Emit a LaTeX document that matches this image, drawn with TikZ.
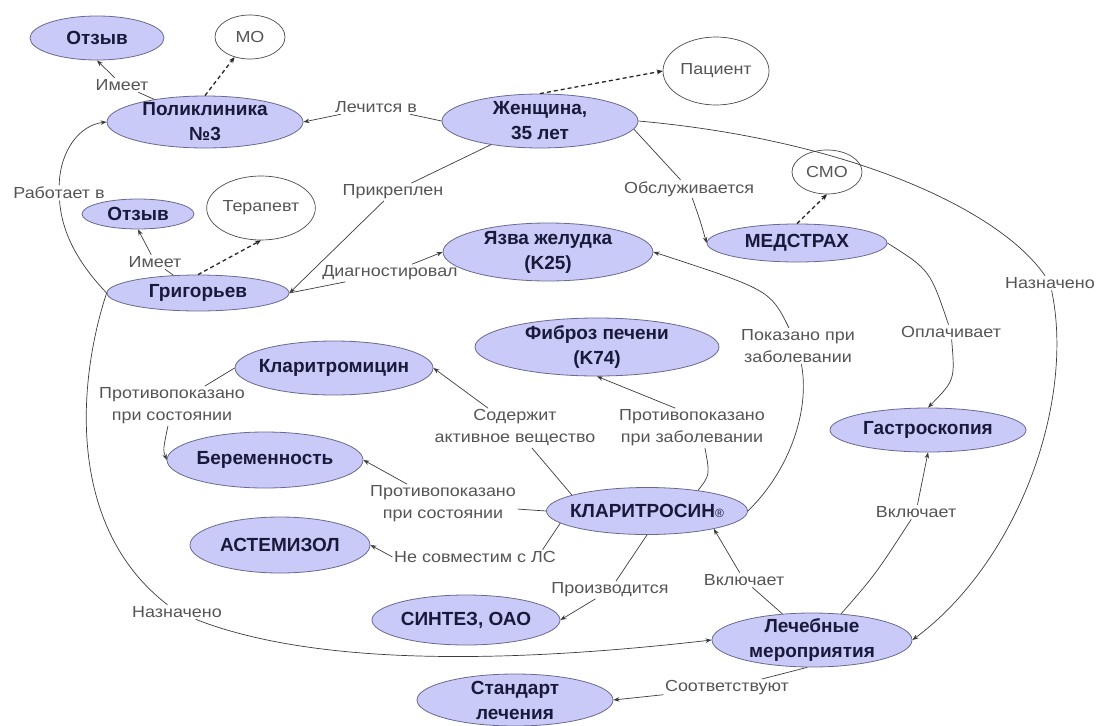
\documentclass[tikz,border=0pt]{standalone}
\usepackage{fontspec}
\setmainfont{Liberation Sans}
\newfontfamily\lblfont[FakeStretch=1.12]{Liberation Sans}
\newfontfamily\cnodefont{Liberation Sans}
\usetikzlibrary{shapes.geometric,arrows.meta}
\definecolor{cfill}{RGB}{202,202,248}
\definecolor{cborder}{RGB}{105,105,145}
\definecolor{ctext}{RGB}{25,25,60}
\definecolor{clbl}{RGB}{85,85,85}
\definecolor{cline}{RGB}{60,60,60}
\tikzset{
  concept/.style={ellipse, draw=cborder, line width=0.8pt, fill=cfill, text=ctext,
    font={\cnodefont\bfseries\fontsize{19}{25}\selectfont}, align=center,
    inner xsep=-10pt, inner ysep=-6pt},
  role/.style={ellipse, draw=black!70, line width=0.7pt, fill=white, text=clbl,
    font={\lblfont\fontsize{16}{20}\selectfont}, inner sep=0pt},
  lbl/.style={text=clbl, font={\lblfont\fontsize{16}{22}\selectfont}, align=center, inner sep=1.5pt},
  plain/.style={draw=cline, line width=0.7pt},
  edge/.style={plain, -{Stealth[length=6pt,width=4.5pt]}},
  dashedge/.style={draw=black!85, line width=1.3pt, dash pattern=on 4pt off 3pt,
    -{Stealth[length=6pt,width=5pt]}}
}
\begin{document}
\begin{tikzpicture}[x=1pt,y=-1pt]
\useasboundingbox[fill=white] (0,0) rectangle (1099,725);

% concept nodes
\node[concept, minimum width=134pt, minimum height=44pt] (otz1) at (97,38) {Отзыв};
\node[role, minimum width=70pt, minimum height=44pt] (mo) at (250,37) {МО};
\node[concept, minimum width=196pt, minimum height=52pt] (pol) at (205,122) {Поликлиника\\№3};
\node[concept, minimum width=196pt, minimum height=54pt] (zhen) at (540,121) {Женщина,\\35 лет};
\node[role, minimum width=106pt, minimum height=68pt] (pac) at (716,71) {Пациент};
\node[role, minimum width=70pt, minimum height=44pt] (smo) at (827,172) {СМО};
\node[concept, minimum width=180pt, minimum height=38pt] (med) at (797,243) {МЕДСТРАХ};
\node[concept, minimum width=112pt, minimum height=30pt] (otz2) at (138,214) {Отзыв};
\node[role, minimum width=108pt, minimum height=64pt] (ter) at (261,208) {Терапевт};
\node[concept, minimum width=182pt, minimum height=36pt] (grig) at (198,293) {Григорьев};
\node[concept, minimum width=210pt, minimum height=58pt] (yazva) at (548,252) {Язва желудка\\(K25)};
\node[concept, minimum width=244pt, minimum height=58pt] (fibroz) at (597,347) {Фиброз печени\\(K74)};
\node[concept, minimum width=198pt, minimum height=54pt] (klmic) at (334,368) {Кларитромицин};
\node[concept, minimum width=196pt, minimum height=56pt] (ber) at (265,460) {Беременность};
\node[concept, minimum width=196pt, minimum height=44pt] (gastro) at (928,430) {Гастроскопия};
\node[concept, minimum width=201pt, minimum height=47pt] (klsin) at (647,511) {КЛАРИТРОСИН{\mdseries\fontsize{12}{12}\selectfont ®}};
\node[concept, minimum width=180pt, minimum height=56pt] (astem) at (280,545) {АСТЕМИЗОЛ};
\node[concept, minimum width=188pt, minimum height=50pt] (sintez) at (466,620) {СИНТЕЗ, ОАО};
\node[concept, minimum width=200pt, minimum height=54pt] (leche) at (812,640) {Лечебные\\мероприятия};
\node[concept, minimum width=196pt, minimum height=52pt] (standart) at (515,700) {Стандарт\\лечения};

% edge labels
\node[lbl] (l1) at (122,85) {Имеет};
\node[lbl] (l3) at (376,107) {Лечится в};
\node[lbl] (l5) at (59,193) {Работает в};
\node[lbl] (l6) at (393,192) {Прикреплен};
\node[lbl] (l7) at (390,273) {Диагностировал};
\node[lbl] (l8) at (155,262) {Имеет};
\node[lbl] (l10) at (689,189) {Обслуживается};
\node[lbl] (l12) at (1050,283) {Назначено};
\node[lbl] (l13) at (951,332) {Оплачивает};
\node[lbl] (l14) at (798,346) {Показано при\\заболевании};
\node[lbl] (l15) at (515,428) {Содержит\\активное вещество};
\node[lbl] (l16) at (692,428) {Противопоказано\\при заболевании};
\node[lbl] (l17) at (172,406) {Противопоказано\\при состоянии};
\node[lbl] (l18) at (443,504) {Противопоказано\\при состоянии};
\node[lbl] (l19) at (475,557) {Не совместим с ЛС};
\node[lbl] (l20) at (610,590) {Производится};
\node[lbl] (l21) at (744,580) {Включает};
\node[lbl] (l22) at (916,512) {Включает};
\node[lbl] (l23) at (177,612) {Назначено};
\node[lbl] (l24) at (727,688) {Соответствуют};

% dashed type links
\draw[dashedge] (pol.north) -- (mo);
\draw[dashedge] (zhen.north) -- (pac.west);
\draw[dashedge] (grig.north) -- (ter.south);
\draw[dashedge] (med.north) -- (smo.south);

% Имеет (Поликлиника)
\draw[plain] (pol) -- (l1);
\draw[edge] (l1) -- (otz1.south);
% Лечится в
\draw[plain] (zhen.west) -- (l3);
\draw[edge] (l3) -- (pol.east);
% Работает в
\draw[plain] (grig.west) .. controls (80,265) and (62,235) .. (l5);
\draw[edge] (l5) .. controls (60,150) and (80,125) .. (pol.west);
% Прикреплен
\draw[plain] (zhen) -- (l6);
\draw[edge] (l6) -- (grig.east);
% Диагностировал
\draw[plain] (grig.east) -- (l7);
\draw[edge] (l7) -- (yazva.west);
% Имеет (Григорьев)
\draw[plain] (grig) -- (l8);
\draw[edge] (l8) -- (otz2.south);
% Обслуживается
\draw[plain] (zhen.-5) -- (l10);
\draw[edge] (l10) .. controls (700,220) .. (med.west);
% Назначено (right)
\draw[plain] (zhen.east) .. controls (850,140) and (1000,210) .. (l12);
\draw[edge] (l12) .. controls (1075,400) and (1020,560) .. (leche.east);
% Оплачивает
\draw[plain] (med.east) .. controls (930,270) .. (l13);
\draw[edge] (l13) .. controls (955,380) .. (gastro.north);
% Показано при заболевании
\draw[plain] (klsin.east) .. controls (790,470) and (810,410) .. (l14);
\draw[edge] (l14) .. controls (770,290) .. (yazva.east);
% Содержит активное вещество
\draw[plain] (klsin.168) -- (l15);
\draw[edge] (l15) -- (klmic.east);
% Противопоказано при заболевании
\draw[plain] (klsin.22) .. controls (710,475) .. (l16.-57);
\draw[edge] (l16.130) -- (fibroz.south);
% Противопоказано при состоянии (Кларитромицин)
\draw[plain] (klmic.west) -- (l17);
\draw[edge] (l17) .. controls (163,450) .. (ber.west);
% Противопоказано при состоянии (КЛАРИТРОСИН)
\draw[plain] (klsin.west) -- (l18);
\draw[edge] (l18) -- (ber.east);
% Не совместим с ЛС
\draw[plain] (klsin.188) -- ([xshift=-15pt]l19.north east);
\draw[edge] (l19.west) -- (astem.east);
% Производится
\draw[plain] (klsin.south) -- (l20);
\draw[edge] (l20) -- (sintez.east);
% Включает (КЛАРИТРОСИН)
\draw[plain] (leche) -- (l21);
\draw[edge] (l21) -- (klsin.-15);
% Включает (Гастроскопия)
\draw[plain] (leche.42) .. controls (875,575) .. (l22);
\draw[edge] (l22) -- (gastro.south);
% Назначено (left)
\draw[plain] (grig.west) .. controls (75,390) and (70,530) .. (l23);
\draw[edge] (l23) .. controls (320,668) and (520,662) .. (leche.west);
% Соответствуют
\draw[plain] (leche.-100) -- (l24);
\draw[edge] (l24) -- (standart.east);
\end{tikzpicture}
\end{document}
